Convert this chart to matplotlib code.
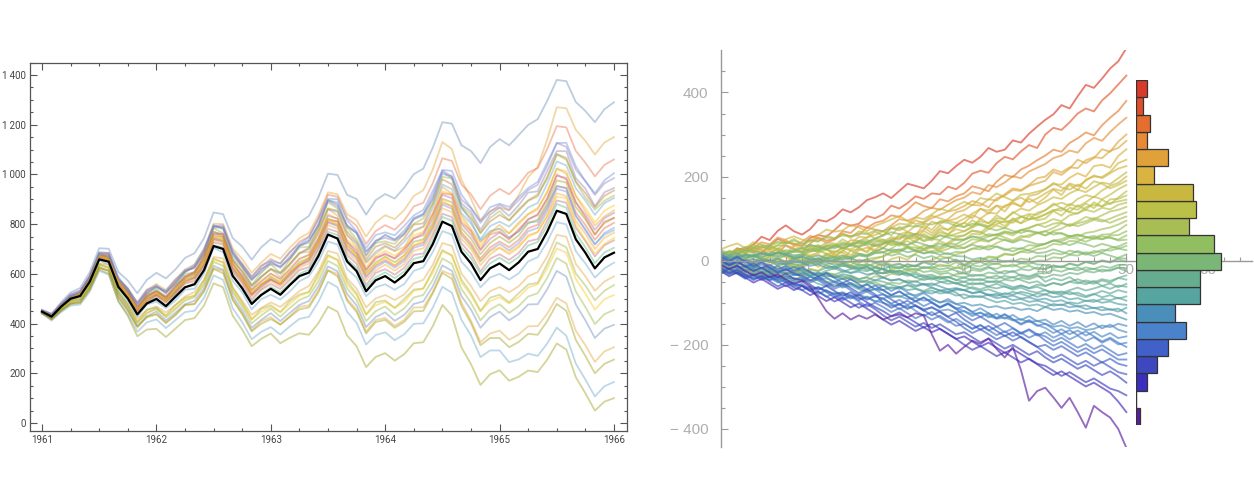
import numpy as np
import matplotlib
matplotlib.use("Agg")
from matplotlib import pyplot as plt
from matplotlib.colors import LinearSegmentedColormap
from matplotlib.ticker import MultipleLocator, FixedLocator

# ---- left panel: monthly mean path 1961-1966 and simulated paths (offset from mean)
mean_line = [448, 428, 468, 500, 511, 568, 658, 649, 548, 501, 437, 481,
             499, 470, 508, 546, 558, 615, 712, 700, 592, 542, 479, 515,
             540, 516, 555, 591, 605, 672, 758, 742, 650, 611, 530, 574,
             591, 565, 595, 643, 651, 720, 810, 792, 689, 642, 575, 622,
             642, 615, 646, 689, 700, 770, 854, 841, 739, 685, 622, 666,
             685]

path_offsets = [
    [5, 10, 18, 25, 32, 38, 45, 52, 60, 72, 85, 95, 105, 112, 110, 118, 125, 128, 135, 140, 152, 168, 178, 192, 200,
     208, 205, 215, 228, 236, 245, 256, 268, 290, 308, 322, 330, 338, 352, 358, 372, 388, 400, 412, 428, 452, 470, 488, 500,
     502, 512, 510, 522, 526, 526, 534, 552, 570, 588, 596, 605],
    [0, 5, 10, 8, 15, 20, 25, 28, 35, 40, 48, 55, 60, 65, 70, 72, 80, 85, 90, 100, 110, 118, 125, 130, 140,
     145, 150, 152, 160, 165, 170, 178, 190, 205, 220, 232, 245, 255, 262, 270, 285, 300, 320, 310, 290, 260, 240, 230, 225,
     240, 270, 300, 330, 370, 416, 425, 440, 450, 458, 462, 465],
    [-5, 0, 5, 10, 12, 18, 20, 25, 30, 32, 38, 45, 50, 55, 60, 62, 70, 75, 80, 88, 95, 100, 108, 115, 120,
     125, 130, 138, 145, 150, 160, 168, 175, 182, 190, 198, 205, 212, 220, 228, 235, 245, 255, 262, 270, 278, 285, 292, 300,
     305, 312, 318, 325, 332, 340, 348, 355, 362, 370, 372, 375],
    [8, 12, 10, 18, 22, 20, 28, 35, 30, 38, 45, 42, 50, 58, 55, 62, 70, 68, 75, 85, 90, 88, 95, 102, 110,
     108, 115, 122, 120, 130, 140, 138, 145, 155, 160, 158, 165, 172, 180, 178, 190, 198, 205, 200, 210, 222, 230, 228, 235,
     242, 250, 248, 258, 265, 272, 270, 280, 288, 295, 298, 300],
    [-8, -5, 0, 5, 2, 8, 12, 10, 15, 22, 20, 28, 32, 30, 38, 45, 42, 50, 58, 55, 62, 70, 75, 72, 80,
     88, 85, 92, 100, 108, 105, 112, 120, 118, 128, 135, 132, 140, 148, 155, 152, 160, 170, 168, 175, 182, 190, 188, 195,
     200, 208, 205, 212, 220, 228, 225, 232, 240, 245, 248, 250],
    [3, 0, 6, 10, 8, 14, 18, 15, 22, 25, 30, 28, 34, 40, 38, 45, 50, 48, 55, 60, 65, 62, 70, 75, 78,
     85, 82, 90, 95, 92, 100, 108, 105, 112, 118, 115, 122, 128, 135, 132, 140, 145, 150, 148, 155, 160, 165, 170, 168,
     175, 180, 178, 185, 192, 198, 195, 205, 210, 215, 218, 220],
    [-3, 2, 0, 5, 10, 6, 12, 15, 12, 18, 22, 20, 25, 28, 25, 32, 35, 40, 38, 45, 50, 48, 55, 58, 62,
     60, 68, 72, 70, 78, 82, 80, 88, 92, 98, 95, 102, 108, 105, 112, 118, 115, 122, 128, 132, 130, 138, 142, 140,
     148, 152, 150, 158, 162, 168, 172, 175, 180, 185, 188, 190],
    [5, 8, 4, 10, 12, 16, 14, 20, 18, 24, 28, 25, 30, 34, 30, 36, 40, 38, 44, 48, 45, 52, 56, 54, 60,
     64, 62, 68, 72, 70, 76, 80, 78, 84, 88, 85, 92, 96, 94, 100, 104, 102, 108, 112, 110, 116, 120, 118, 124,
     128, 126, 132, 136, 134, 140, 145, 148, 152, 155, 158, 160],
    [0, -4, 2, 6, 3, 8, 10, 8, 14, 12, 18, 20, 18, 24, 22, 28, 30, 28, 34, 38, 35, 40, 44, 42, 48,
     52, 50, 56, 60, 58, 64, 66, 64, 70, 74, 72, 78, 82, 80, 86, 88, 86, 92, 96, 94, 100, 104, 102, 108,
     110, 108, 114, 118, 116, 122, 126, 130, 134, 136, 138, 140],
    [-6, -2, -5, 0, 4, 2, 6, 10, 8, 12, 15, 12, 18, 20, 18, 22, 26, 24, 28, 32, 30, 34, 38, 36, 40,
     44, 42, 46, 50, 48, 52, 55, 53, 58, 62, 60, 64, 68, 66, 70, 74, 72, 76, 80, 78, 82, 86, 84, 88,
     92, 90, 94, 98, 96, 100, 104, 108, 112, 115, 118, 120],
    [4, 6, 2, 8, 10, 7, 12, 14, 10, 16, 18, 15, 20, 22, 19, 24, 26, 23, 28, 30, 27, 32, 35, 32, 38,
     40, 37, 42, 45, 42, 48, 50, 47, 52, 55, 52, 58, 60, 57, 62, 65, 62, 68, 70, 67, 72, 75, 72, 78,
     80, 77, 82, 85, 82, 88, 90, 93, 95, 97, 98, 100],
    [-2, 0, -4, 2, 4, 0, 6, 8, 4, 10, 12, 8, 14, 16, 12, 18, 20, 16, 22, 24, 20, 26, 28, 24, 30,
     32, 28, 34, 36, 32, 38, 40, 36, 42, 44, 40, 46, 48, 44, 50, 52, 48, 54, 56, 52, 58, 60, 56, 62,
     64, 60, 66, 68, 64, 70, 72, 74, 76, 78, 79, 80],
    [3, 1, 5, 2, 6, 4, 8, 5, 9, 7, 11, 8, 12, 14, 11, 15, 13, 17, 14, 18, 16, 20, 17, 21, 19,
     23, 20, 24, 22, 26, 23, 27, 25, 29, 26, 30, 28, 32, 29, 33, 31, 35, 32, 36, 34, 38, 35, 39, 37,
     41, 38, 42, 40, 44, 41, 45, 46, 47, 48, 49, 50],
    [-4, -1, -5, -2, 0, -3, 1, -2, 2, -1, 3, 0, 4, 2, 5, 1, 4, 0, 3, 6, 2, 5, 8, 4, 7,
     10, 6, 9, 12, 8, 11, 14, 10, 13, 16, 12, 15, 18, 14, 17, 20, 16, 19, 22, 18, 21, 24, 20, 23,
     26, 22, 25, 28, 24, 27, 25, 23, 22, 21, 20, 20],
    [2, -3, 6, 12, 4, 15, 22, 14, 25, 31, 22, 35, 40, 33, 48, 55, 46, 60, 72, 63, 70, 84, 76, 90, 98,
     88, 102, 115, 104, 118, 130, 121, 137, 128, 142, 150, 140, 155, 168, 158, 172, 165, 180, 192, 183, 196, 188, 202, 210,
     200, 214, 207, 220, 212, 226, 218, 230, 222, 236, 228, 230],
    [-4, 3, -2, 8, 14, 6, 18, 11, 24, 17, 29, 22, 30, 38, 29, 42, 50, 41, 55, 47, 61, 69, 58, 72, 80,
     71, 85, 94, 83, 97, 105, 92, 108, 99, 114, 106, 118, 126, 113, 128, 137, 124, 140, 131, 146, 138, 152, 143, 155,
     148, 160, 152, 165, 157, 170, 162, 175, 166, 172, 165, 170],
    [6, 0, 9, 15, 10, 20, 26, 18, 30, 36, 28, 40, 46, 55, 49, 62, 70, 64, 78, 86, 80, 94, 100, 92, 106,
     114, 108, 122, 130, 124, 138, 146, 140, 154, 160, 152, 166, 174, 168, 182, 190, 184, 200, 192, 180, 170, 158, 150, 140,
     132, 124, 118, 110, 104, 98, 104, 96, 90, 96, 92, 90],
    [-2, 4, 10, 5, 14, 20, 13, 25, 18, 30, 24, 35, 28, 36, 44, 38, 50, 58, 48, 60, 52, 45, 38, 44, 36,
     42, 50, 44, 56, 64, 58, 70, 78, 72, 84, 92, 86, 98, 106, 100, 112, 120, 114, 126, 118, 130, 124, 136, 128,
     122, 134, 128, 140, 132, 146, 138, 150, 142, 136, 144, 140],
    [4, 10, 6, 15, 21, 17, 28, 35, 30, 42, 38, 50, 56, 50, 62, 70, 64, 78, 85, 80, 92, 86, 98, 105, 100,
     112, 106, 120, 128, 122, 136, 130, 144, 152, 146, 160, 154, 168, 162, 176, 184, 178, 192, 200, 194, 208, 202, 216, 224,
     218, 230, 238, 232, 244, 240, 252, 246, 258, 250, 262, 260],
    [0, -6, 4, -2, 9, 3, 14, 8, 18, 12, 22, 16, 26, 20, 30, 24, 34, 28, 38, 32, 42, 36, 46, 40, 50,
     44, 54, 48, 58, 52, 62, 56, 66, 60, 70, 64, 74, 68, 78, 72, 82, 76, 86, 80, 74, 68, 76, 70, 64,
     72, 66, 60, 68, 62, 56, 64, 58, 52, 60, 54, 60],
    [-3, 5, 12, 8, 18, 26, 20, 32, 40, 35, 48, 55, 50, 62, 70, 64, 78, 86, 80, 95, 102, 96, 110, 118, 112,
     126, 134, 128, 142, 150, 144, 158, 166, 160, 174, 182, 176, 190, 198, 192, 206, 214, 208, 222, 230, 224, 238, 246, 240,
     254, 262, 256, 270, 278, 272, 286, 294, 288, 302, 310, 320],
    [2, -4, 3, -6, -2, -9, -5, -12, -7, -14, -10, -4, -11, -8, -15, -10, -18, -13, -7, -14, -20, -16, -22, -17, -24,
     -19, -26, -21, -15, -23, -28, -24, -31, -26, -20, -28, -33, -29, -36, -31, -25, -32, -38, -34, -40, -35, -29, -37, -42,
     -38, -44, -39, -33, -41, -46, -42, -48, -43, -37, -44, -40],
    [-3, 2, -6, -10, -5, -13, -17, -11, -20, -24, -18, -27, -30, -25, -33, -37, -31, -40, -44, -38, -46, -50, -44, -52, -55,
     -49, -57, -60, -54, -62, -66, -60, -68, -71, -65, -73, -76, -70, -78, -81, -75, -83, -86, -80, -88, -91, -85, -92, -95,
     -89, -96, -99, -93, -100, -97, -92, -99, -95, -90, -97, -95],
    [0, -5, -2, -9, -14, -10, -18, -22, -17, -26, -30, -25, -34, -38, -33, -42, -46, -40, -50, -54, -48, -58, -62, -56, -66,
     -70, -64, -74, -78, -72, -82, -86, -80, -90, -94, -88, -98, -102, -96, -106, -110, -104, -114, -118, -112, -120, -124, -118, -126,
     -130, -124, -132, -136, -130, -128, -134, -138, -132, -128, -134, -130],
    [-5, -8, -12, -10, -16, -20, -24, -22, -28, -32, -30, -36, -40, -38, -44, -48, -46, -52, -56, -54, -60, -64, -62, -68, -72,
     -70, -76, -80, -78, -84, -88, -86, -92, -96, -94, -100, -104, -102, -108, -112, -110, -116, -120, -118, -124, -128, -126, -132, -136,
     -134, -140, -144, -142, -148, -152, -156, -160, -164, -166, -168, -170],
    [2, -3, -8, -12, -10, -18, -22, -26, -24, -32, -36, -40, -38, -46, -50, -54, -52, -60, -64, -68, -66, -74, -78, -82, -80,
     -88, -92, -96, -94, -102, -106, -110, -108, -116, -120, -124, -122, -130, -134, -138, -136, -144, -148, -152, -150, -158, -162, -166, -164,
     -172, -176, -180, -178, -186, -190, -200, -210, -218, -224, -228, -230],
    [-4, -10, -14, -20, -18, -26, -32, -36, -34, -42, -48, -52, -50, -58, -64, -68, -66, -74, -80, -84, -82, -90, -96, -100, -98,
     -106, -112, -116, -114, -122, -128, -132, -130, -138, -144, -148, -146, -154, -160, -164, -162, -170, -176, -180, -178, -186, -192, -196, -194,
     -202, -208, -212, -222, -232, -242, -252, -262, -272, -280, -286, -290],
    [-6, -12, -18, -16, -24, -30, -36, -34, -42, -48, -54, -52, -60, -66, -72, -70, -78, -84, -90, -88, -96, -102, -108, -106, -114,
     -120, -126, -124, -132, -138, -144, -142, -150, -156, -162, -160, -168, -174, -180, -178, -186, -192, -198, -196, -204, -230, -250, -262, -270,
     -280, -290, -300, -310, -330, -350, -360, -368, -372, -376, -378, -380],
    [-2, -8, -14, -20, -26, -24, -32, -38, -44, -50, -48, -56, -62, -68, -74, -72, -80, -86, -92, -98, -96, -104, -110, -116, -122,
     -120, -128, -134, -140, -146, -144, -152, -158, -164, -170, -168, -176, -182, -188, -194, -200, -198, -206, -212, -218, -240, -262, -280, -300,
     -310, -320, -330, -345, -360, -375, -390, -405, -415, -422, -428, -430],
    [-8, -16, -22, -28, -34, -40, -46, -52, -58, -64, -70, -76, -82, -88, -94, -100, -106, -112, -118, -124, -130, -136, -142, -148, -154,
     -160, -166, -172, -178, -184, -190, -196, -202, -208, -214, -220, -226, -232, -238, -244, -250, -256, -262, -268, -274, -290, -310, -330, -350,
     -370, -390, -410, -430, -450, -470, -490, -500, -510, -515, -518, -520],
    [-5, -10, -16, -22, -28, -34, -40, -48, -58, -70, -88, -105, -120, -124, -128, -132, -136, -142, -150, -154, -160, -166, -170, -176, -180,
     -195, -212, -230, -250, -270, -290, -294, -298, -302, -305, -308, -310, -314, -318, -322, -326, -330, -335, -360, -385, -405, -422, -426, -430,
     -445, -460, -478, -495, -515, -534, -545, -555, -565, -572, -580, -585],
]

# ---- right panel: random walks (value at steps 0..50)
walks = [
    [5, 11, 29, 26, 38, 57, 49, 71, 84, 70, 62, 75, 97, 93, 104, 122, 115, 127, 144, 151, 160,
     149, 166, 183, 178, 172, 190, 213, 208, 225, 240, 233, 247, 268, 259, 264, 286, 281, 302, 319, 335,
     348, 370, 362, 391, 418, 411, 433, 457, 474, 505],
    [-8, 6, 13, 30, 24, 19, 35, 52, 44, 40, 35, 54, 61, 57, 73, 90, 83, 88, 106, 101, 110,
     131, 124, 137, 153, 147, 160, 158, 176, 170, 185, 207, 214, 209, 232, 247, 241, 260, 275, 268, 300,
     316, 311, 329, 350, 362, 355, 381, 398, 419, 440],
    [14, 8, 25, 19, 31, 26, 12, 18, 37, 29, 20, 41, 55, 48, 51, 70, 66, 84, 78, 90, 95,
     108, 104, 121, 139, 130, 125, 146, 141, 153, 160, 177, 172, 165, 188, 204, 199, 217, 226, 239, 250,
     264, 259, 280, 291, 305, 298, 322, 340, 356, 380],
    [-3, 10, 27, 21, 30, 44, 39, 55, 49, 36, 45, 59, 52, 43, 50, 64, 58, 61, 79, 74, 70,
     84, 99, 95, 103, 118, 126, 121, 133, 144, 150, 163, 158, 180, 175, 186, 201, 196, 212, 221, 230,
     244, 250, 262, 257, 279, 292, 285, 306, 324, 340],
    [22, 16, 30, 17, 9, 13, 28, 24, 8, 2, 10, 27, 21, 35, 38, 33, 49, 47, 55, 69, 60,
     77, 72, 81, 96, 90, 101, 109, 117, 121, 130, 142, 136, 127, 148, 155, 168, 166, 178, 184, 190,
     211, 204, 219, 240, 232, 244, 265, 259, 283, 300],
    [-18, -9, -15, -28, -14, -20, -2, 4, -1, -17, -10, 6, 1, 14, 22, 19, 8, 25, 31, 26, 40,
     52, 50, 68, 62, 74, 93, 87, 99, 115, 120, 133, 131, 146, 143, 158, 172, 168, 180, 196, 200,
     217, 210, 222, 220, 239, 246, 244, 261, 268, 285],
    [8, -2, 13, 21, 18, 34, 25, 14, 17, 35, 30, 24, 36, 29, 12, 22, 40, 43, 36, 20, 30,
     47, 41, 55, 53, 71, 60, 77, 74, 82, 90, 108, 100, 114, 112, 131, 136, 130, 154, 158, 170,
     182, 181, 197, 208, 200, 225, 228, 221, 249, 265],
    [-12, -26, -13, -27, -24, -38, -25, -14, -31, -22, -20, -2, -15, 6, 16, 3, 24, 28, 22, 44, 50,
     41, 63, 68, 61, 85, 73, 94, 95, 100, 110, 101, 124, 112, 131, 117, 140, 128, 148, 136, 150,
     169, 156, 181, 168, 193, 200, 199, 211, 232, 240],
    [27, 35, 41, 30, 44, 39, 28, 36, 51, 58, 50, 46, 61, 74, 69, 72, 85, 79, 70, 83, 90,
     98, 106, 95, 87, 92, 107, 101, 94, 90, 100, 112, 123, 119, 131, 127, 142, 150, 139, 148, 160,
     171, 166, 184, 177, 190, 203, 196, 208, 219, 225],
    [2, 12, 17, 5, -6, -1, 11, 4, -9, -4, 0, 13, 19, 26, 18, 31, 27, 37, 44, 35, 40,
     49, 58, 52, 61, 48, 55, 67, 63, 75, 70, 82, 94, 89, 101, 99, 113, 124, 119, 132, 140,
     151, 147, 160, 169, 163, 175, 186, 182, 196, 210],
    [-22, -12, -1, 3, 12, 7, 16, 28, 19, 26, 20, 11, 15, 4, -5, -2, -11, -19, -8, -14, -10,
     4, 9, 2, 18, 25, 31, 29, 43, 55, 60, 71, 66, 82, 87, 95, 90, 104, 111, 109, 120,
     132, 138, 131, 147, 156, 151, 167, 178, 185, 200],
    [10, 24, 19, 28, 39, 30, 36, 27, 43, 41, 35, 48, 45, 60, 53, 65, 54, 70, 66, 52, 60,
     79, 88, 86, 103, 99, 110, 124, 118, 130, 140, 132, 149, 145, 160, 151, 143, 157, 159, 164, 170,
     185, 174, 169, 181, 171, 189, 183, 172, 180, 190],
    [-5, -15, -12, -25, -18, -33, -21, -36, -30, -22, -30, -19, -24, -10, -18, -7, -11, 3, -4, 4, 10,
     22, 20, 33, 25, 36, 34, 47, 38, 52, 50, 64, 62, 75, 84, 77, 96, 89, 98, 101, 110,
     121, 119, 135, 128, 139, 152, 146, 157, 170, 180],
    [16, 6, 10, 27, 19, 5, 17, 30, 22, 7, 15, 33, 27, 38, 36, 51, 40, 57, 55, 61, 70,
     60, 81, 68, 83, 79, 66, 84, 72, 90, 80, 96, 85, 81, 94, 82, 101, 89, 108, 96, 100,
     118, 107, 126, 121, 136, 125, 145, 134, 150, 165],
    [-28, -14, -26, -10, -21, -1, -14, 6, -8, 9, -5, 11, 0, 18, 7, 25, 13, 31, 19, 38, 30,
     46, 35, 55, 44, 64, 53, 73, 62, 82, 90, 81, 100, 89, 108, 97, 116, 105, 98, 114, 120,
     136, 125, 116, 132, 121, 139, 129, 146, 147, 155],
    [6, 14, 27, 22, 35, 31, 38, 46, 41, 52, 40, 33, 37, 28, 21, 30, 24, 16, 12, 25, 20,
     29, 41, 37, 49, 56, 48, 61, 58, 64, 70, 79, 88, 82, 96, 91, 97, 105, 99, 103, 110,
     119, 126, 115, 112, 127, 133, 129, 137, 141, 145],
    [-10, -3, 9, 14, 3, 0, 11, 20, 12, 4, 10, 21, 30, 26, 35, 44, 39, 33, 45, 52, 50,
     42, 38, 47, 36, 29, 34, 22, 28, 37, 30, 41, 48, 45, 57, 66, 60, 72, 79, 85, 90,
     99, 94, 108, 113, 121, 116, 126, 122, 133, 138],
    [3, -6, -2, -14, -9, -20, -16, -27, -21, -13, -20, -29, -36, -28, -33, -41, -35, -44, -38, -26, -30,
     -21, -17, -8, -13, -2, 1, 11, 6, 15, 20, 28, 35, 31, 42, 50, 45, 54, 61, 65, 70,
     78, 89, 84, 93, 104, 99, 108, 117, 121, 128],
    [19, 12, 24, 18, 29, 21, 33, 27, 15, 21, 25, 36, 31, 43, 41, 30, 38, 44, 50, 39, 45,
     56, 53, 62, 57, 46, 52, 49, 61, 58, 60, 72, 69, 58, 63, 55, 48, 59, 56, 67, 60,
     71, 76, 87, 82, 89, 97, 93, 100, 108, 115],
    [-15, -7, -11, -2, -8, 4, -1, -12, -8, -17, -10, 0, 3, 12, 7, -4, -1, -6, 4, 7, 10,
     19, 22, 30, 24, 18, 23, 27, 35, 33, 40, 51, 49, 58, 62, 70, 66, 73, 77, 86, 80,
     88, 91, 82, 89, 94, 101, 97, 90, 98, 105],
    [12, 20, 17, 26, 24, 33, 29, 37, 35, 26, 30, 22, 25, 16, 9, 13, 6, -3, 1, -4, 0,
     -10, -7, -15, -12, -2, -6, -14, -11, -18, -10, -1, 2, 10, 8, 17, 14, 22, 26, 34, 40,
     48, 51, 59, 57, 66, 69, 75, 79, 86, 95],
    [-20, -11, -18, -16, -24, -19, -27, -23, -31, -28, -25, -33, -29, -38, -36, -44, -41, -49, -47, -37, -40,
     -31, -34, -24, -26, -15, -19, -9, -13, -4, -10, 0, -2, 8, 6, 15, 13, 21, 19, 27, 30,
     40, 38, 47, 46, 55, 54, 62, 63, 72, 85],
    [0, 8, 5, 12, 11, 2, 6, 4, 12, 10, 15, 24, 22, 31, 29, 38, 35, 43, 41, 48, 45,
     37, 40, 32, 23, 26, 18, 22, 15, 21, 20, 29, 27, 36, 33, 25, 30, 28, 37, 35, 40,
     48, 46, 55, 52, 45, 53, 51, 60, 61, 70],
    [25, 18, 24, 33, 30, 37, 35, 43, 41, 48, 40, 49, 47, 55, 53, 60, 58, 65, 63, 72, 70,
     78, 76, 83, 81, 88, 86, 92, 90, 83, 80, 88, 85, 77, 72, 78, 71, 66, 72, 67, 60,
     68, 64, 57, 62, 57, 52, 58, 54, 50, 60],
    [-2, -9, -5, -13, -10, -17, -12, -19, -15, -9, -15, -6, -8, 1, -1, 8, 6, 13, 11, 18, 20,
     27, 25, 33, 31, 28, 35, 33, 41, 39, 50, 57, 55, 63, 61, 68, 65, 73, 70, 66, 70,
     62, 66, 58, 62, 55, 59, 51, 56, 48, 50],
    [9, 2, 8, 4, 11, 6, -1, 3, -3, 6, 5, -3, 1, -8, -5, -13, -11, -19, -17, -25, -30,
     -23, -27, -19, -22, -15, -19, -27, -24, -16, -20, -11, -14, -5, -8, 0, -3, 5, 2, 11, 10,
     18, 15, 24, 20, 14, 23, 20, 30, 34, 42],
    [-27, -19, -26, -34, -29, -37, -32, -40, -36, -43, -40, -48, -44, -52, -49, -56, -53, -60, -57, -51, -60,
     -52, -55, -47, -50, -42, -45, -37, -40, -32, -30, -22, -25, -17, -19, -11, -14, -6, -8, 0, 0,
     8, 6, 14, 12, 20, 18, 26, 24, 29, 35],
    [15, 22, 18, 25, 21, 14, 21, 17, 25, 21, 20, 29, 26, 35, 32, 41, 38, 47, 44, 53, 60,
     68, 63, 57, 64, 59, 53, 60, 55, 49, 50, 58, 53, 47, 54, 49, 43, 50, 45, 39, 40,
     48, 43, 37, 44, 39, 33, 40, 35, 29, 25],
    [-6, 1, -5, 3, -3, 5, -1, -8, -2, -9, -10, -2, -6, 3, -1, 8, 4, 13, 9, 18, 20,
     12, 17, 9, 14, 6, 11, 3, 8, 0, 0, -8, -3, -11, -6, -14, -9, -17, -12, -20, -20,
     -11, -16, -7, -12, -3, -8, 1, -4, 7, 15],
    [4, 11, 6, 14, 9, 17, 12, 20, 15, 24, 30, 38, 33, 27, 35, 29, 37, 32, 40, 35, 40,
     48, 43, 37, 45, 39, 33, 41, 35, 29, 30, 38, 32, 26, 34, 28, 22, 30, 24, 18, 20,
     27, 21, 15, 23, 17, 11, 18, 12, 6, 5],
    [-24, -18, -25, -21, -29, -27, -33, -26, -31, -28, -30, -22, -25, -17, -20, -12, -16, -9, -13, -6, -10,
     -17, -14, -22, -19, -27, -24, -32, -29, -37, -40, -33, -36, -28, -31, -24, -27, -20, -23, -16, -20,
     -12, -15, -7, -11, -3, -7, 0, -4, 3, -2],
    [7, 13, 9, 16, 12, 19, 14, 8, 13, 6, 10, 2, 6, -2, 2, -6, -3, -11, -8, -16, -20,
     -28, -24, -32, -28, -36, -33, -41, -38, -46, -50, -43, -47, -40, -43, -36, -40, -33, -37, -30, -30,
     -22, -26, -19, -23, -16, -20, -13, -17, -10, -10],
    [-9, -3, -7, -1, -5, 1, -3, -10, -6, 1, -5, 3, -1, 7, 3, 12, 8, 17, 13, 22, 30,
     23, 27, 20, 24, 17, 21, 14, 18, 11, 10, 3, 7, 0, 4, -3, 1, -6, -2, -9, -10,
     -17, -13, -20, -16, -23, -19, -26, -22, -16, -18],
    [-30, -24, -31, -38, -33, -40, -35, -42, -37, -44, -40, -33, -37, -30, -33, -26, -29, -22, -25, -18, -20,
     -27, -24, -31, -39, -35, -43, -39, -47, -55, -60, -53, -56, -49, -52, -45, -48, -41, -44, -37, -40,
     -33, -36, -29, -32, -25, -28, -21, -24, -17, -25],
    [12, 5, 12, 7, 14, 9, 16, 11, 18, 13, 15, 8, 12, 5, 9, 2, 6, -1, 3, -4, -5,
     -12, -8, -15, -11, -18, -14, -21, -17, -24, -30, -37, -33, -40, -36, -43, -39, -46, -53, -49, -60,
     -53, -57, -50, -54, -47, -51, -44, -48, -41, -35],
    [-14, -8, -17, -11, -20, -26, -19, -28, -22, -15, -20, -27, -34, -29, -38, -44, -39, -47, -53, -46, -50,
     -57, -63, -58, -66, -72, -64, -71, -77, -69, -70, -63, -68, -61, -55, -62, -67, -59, -65, -57, -60,
     -53, -58, -50, -44, -51, -55, -47, -52, -41, -45],
    [20, 13, 17, 8, 12, 3, -2, 5, -4, 3, 0, -7, -3, -12, -16, -9, -18, -22, -14, -25, -20,
     -13, -19, -9, -14, -4, -10, 0, -6, 3, -10, -17, -21, -14, -26, -31, -24, -36, -40, -33, -50,
     -42, -47, -39, -51, -56, -48, -60, -54, -63, -55],
    [-17, -23, -29, -22, -31, -37, -30, -36, -42, -33, -35, -28, -32, -24, -18, -26, -20, -14, -22, -15, -20,
     -27, -33, -29, -40, -46, -41, -50, -55, -52, -60, -66, -72, -68, -75, -81, -74, -79, -85, -78, -80,
     -73, -77, -70, -64, -71, -66, -60, -67, -59, -62],
    [-4, -11, -18, -13, -24, -31, -27, -38, -44, -41, -50, -46, -55, -61, -56, -64, -59, -68, -74, -67, -70,
     -63, -67, -58, -62, -55, -59, -51, -48, -54, -50, -57, -53, -62, -66, -61, -69, -64, -72, -76, -70,
     -77, -81, -74, -82, -87, -80, -72, -78, -70, -75],
    [3, 9, 6, 14, 11, 18, 13, 20, 15, 7, 10, 3, 5, -3, -11, -6, -15, -19, -13, -26, -30,
     -24, -29, -36, -32, -40, -37, -44, -39, -46, -40, -47, -43, -51, -48, -56, -63, -59, -66, -62, -70,
     -77, -73, -80, -76, -84, -79, -87, -82, -90, -85],
    [-11, -4, -12, -18, -14, -22, -17, -25, -21, -28, -20, -27, -35, -31, -40, -36, -45, -52, -48, -57, -60,
     -66, -62, -70, -67, -74, -71, -78, -75, -83, -80, -87, -84, -92, -99, -95, -103, -100, -107, -104, -110,
     -103, -106, -99, -102, -95, -98, -91, -94, -88, -95],
    [-26, -33, -29, -37, -34, -41, -38, -46, -51, -47, -45, -38, -42, -35, -39, -32, -36, -44, -40, -47, -40,
     -47, -44, -52, -59, -56, -64, -71, -68, -76, -90, -83, -87, -80, -84, -77, -81, -74, -78, -86, -80,
     -87, -84, -92, -89, -96, -93, -100, -97, -103, -105],
    [-20, -28, -24, -33, -40, -36, -45, -41, -50, -57, -60, -67, -63, -72, -79, -75, -84, -80, -88, -85, -90,
     -83, -86, -79, -82, -75, -78, -71, -74, -67, -70, -77, -74, -82, -89, -86, -94, -91, -98, -95, -100,
     -107, -104, -111, -108, -115, -112, -118, -115, -121, -112],
    [8, 1, 6, -1, 4, -3, 2, -5, -9, -4, -5, -12, -9, -17, -14, -22, -29, -26, -33, -30, -40,
     -47, -44, -52, -49, -57, -54, -61, -68, -65, -70, -77, -74, -82, -79, -86, -83, -90, -87, -93, -90,
     -97, -94, -102, -109, -106, -113, -110, -117, -114, -125],
    [-12, -19, -15, -23, -20, -27, -24, -31, -28, -35, -30, -37, -45, -42, -50, -58, -55, -63, -71, -68, -80,
     -87, -84, -91, -88, -95, -92, -99, -96, -103, -100, -107, -104, -111, -108, -114, -111, -117, -114, -120, -110,
     -117, -114, -121, -118, -125, -122, -129, -126, -133, -140],
    [-22, -30, -27, -35, -42, -38, -46, -43, -51, -57, -60, -67, -64, -72, -79, -76, -84, -91, -88, -96, -100,
     -107, -104, -111, -108, -115, -112, -119, -116, -123, -120, -127, -124, -131, -138, -135, -142, -139, -146, -143, -150,
     -157, -154, -161, -158, -165, -162, -154, -158, -150, -155],
    [5, -6, 5, -7, -18, -9, -21, -12, -24, -15, -25, -37, -28, -40, -51, -42, -54, -65, -56, -68, -70,
     -82, -73, -85, -96, -87, -99, -110, -101, -113, -120, -132, -123, -135, -126, -138, -129, -141, -132, -144, -140,
     -152, -143, -155, -146, -158, -149, -161, -152, -164, -170],
    [-28, -17, -29, -40, -31, -43, -34, -46, -37, -49, -50, -38, -47, -59, -50, -62, -53, -65, -56, -68, -60,
     -72, -63, -75, -86, -77, -89, -100, -91, -103, -110, -122, -113, -125, -136, -127, -139, -150, -141, -153, -160,
     -172, -163, -175, -166, -178, -169, -181, -172, -184, -180],
    [-8, -20, -11, -24, -36, -27, -40, -52, -43, -56, -70, -61, -74, -86, -77, -90, -81, -94, -85, -98, -90,
     -103, -115, -106, -119, -131, -122, -135, -147, -138, -150, -162, -153, -166, -157, -170, -161, -174, -165, -178, -170,
     -183, -174, -187, -178, -191, -182, -195, -186, -199, -195],
    [16, 4, -8, 1, -11, -2, -14, -26, -17, -29, -40, -52, -43, -55, -67, -58, -70, -82, -73, -85, -90,
     -102, -93, -105, -96, -108, -99, -111, -102, -114, -110, -122, -134, -125, -137, -128, -140, -152, -143, -155, -150,
     -162, -174, -165, -177, -168, -180, -192, -183, -195, -205],
    [-16, -28, -19, -31, -43, -34, -46, -37, -49, -61, -55, -67, -79, -70, -82, -94, -85, -97, -109, -100, -110,
     -122, -113, -125, -137, -128, -140, -131, -143, -155, -150, -162, -153, -165, -177, -168, -180, -171, -183, -174, -180,
     -192, -183, -195, -207, -198, -210, -201, -213, -225, -220],
    [-1, -12, -3, -15, -6, -18, -9, -21, -12, -24, -15, -27, -38, -29, -41, -53, -44, -56, -68, -59, -70,
     -82, -73, -85, -97, -88, -100, -112, -103, -115, -130, -142, -133, -145, -157, -148, -160, -172, -163, -175, -190,
     -202, -193, -205, -217, -208, -220, -211, -223, -235, -235],
    [-30, -19, -31, -43, -34, -46, -37, -49, -61, -52, -60, -72, -63, -75, -87, -78, -90, -81, -93, -84, -80,
     -92, -104, -95, -107, -119, -110, -122, -134, -145, -160, -172, -163, -175, -187, -178, -190, -181, -193, -205, -200,
     -212, -203, -215, -227, -218, -230, -242, -233, -245, -250],
    [10, -1, 10, -2, -14, -5, -17, -29, -20, -32, -35, -47, -38, -50, -62, -53, -65, -77, -68, -80, -100,
     -112, -103, -115, -106, -118, -130, -121, -133, -124, -140, -152, -164, -155, -167, -179, -170, -182, -194, -205, -220,
     -232, -223, -235, -247, -238, -250, -241, -253, -265, -270],
    [-19, -31, -22, -34, -46, -37, -49, -61, -52, -64, -70, -82, -73, -85, -97, -88, -100, -112, -103, -115, -130,
     -142, -133, -145, -157, -148, -160, -151, -163, -175, -170, -182, -194, -185, -197, -209, -200, -212, -224, -215, -230,
     -242, -233, -245, -257, -248, -260, -272, -263, -275, -290],
    [2, -10, -1, -13, -25, -16, -28, -40, -31, -43, -45, -57, -69, -60, -72, -84, -75, -87, -99, -110, -120,
     -132, -123, -135, -147, -159, -150, -162, -174, -186, -200, -212, -203, -215, -227, -218, -230, -242, -233, -245, -250,
     -262, -274, -265, -277, -289, -280, -292, -304, -310, -320],
    [-25, -37, -28, -40, -52, -43, -55, -67, -58, -70, -60, -72, -84, -96, -87, -99, -111, -102, -114, -126, -140,
     -152, -143, -155, -167, -158, -170, -162, -174, -186, -180, -192, -204, -195, -207, -219, -210, -222, -234, -246, -260,
     -272, -263, -275, -287, -299, -290, -302, -314, -335, -360],
    [-10, -20, -12, -25, -35, -28, -40, -32, -45, -55, -48, -62, -90, -120, -138, -125, -140, -130, -138, -128, -140,
     -132, -128, -135, -125, -130, -175, -214, -200, -221, -205, -190, -198, -185, -210, -230, -205, -260, -333, -310, -302,
     -325, -350, -326, -360, -397, -345, -360, -373, -400, -445],
]

# histogram of final values, bins from lowest to highest
hist_counts = [1, 0, 3, 6, 9, 14, 11, 18, 18, 24, 22, 15, 17, 16, 5, 9, 3, 4, 2, 3]

# ---- styles
palette = ["#5E81B5", "#E19C24", "#EB6235", "#8778B3", "#C56E1A", "#5D9EC7", "#FFBF00", "#A5609D",
           "#929600", "#E95536", "#6685D9", "#F89F13", "#BC5B80", "#47B66D", "#8FB032", "#E19C24",
           "#5D9EC7", "#EB6235", "#8778B3", "#FFBF00", "#6685D9", "#5D9EC7", "#E19C24", "#8FB032",
           "#FFBF00", "#8FB032", "#5E81B5", "#E19C24", "#929600", "#5D9EC7", "#929600"]

rainbow = LinearSegmentedColormap.from_list("rainbow_m", [
    (0.00, "#5E1D9E"), (0.105, "#3A30C0"), (0.16, "#3C48C0"), (0.21, "#3F62C8"),
    (0.26, "#4A82CC"), (0.316, "#4A90B8"), (0.368, "#57A5A0"), (0.42, "#66AD90"),
    (0.47, "#78B578"), (0.526, "#90BE60"), (0.579, "#A8BE55"), (0.63, "#BAC048"),
    (0.684, "#C8B840"), (0.737, "#D9B440"), (0.79, "#E0A23A"), (0.84, "#E88A35"),
    (0.895, "#E37030"), (0.947, "#E0502A"), (1.0, "#D93A2A")])

W, H = 1254, 500
fig = plt.figure(figsize=(W / 100, H / 100), dpi=100)

# ================= left panel
ax1 = fig.add_axes([30 / W, (H - 431) / H, 597 / W, (431 - 62.5) / H])
mean_arr = np.array(mean_line, dtype=float)
t = 1961 + np.arange(len(mean_arr)) / 12.0
for i, off in enumerate(path_offsets):
    n = min(len(off), len(mean_arr))
    ax1.plot(t[:n], mean_arr[:n] + np.array(off[:n]), color=palette[i % len(palette)],
             lw=1.3, alpha=0.4)
ax1.plot(t, mean_arr, color="black", lw=1.6, zorder=5)

ax1.set_xlim(1960.895, 1966.114)
ax1.set_ylim(-32, 1450)
ax1.set_xticks(range(1961, 1967))
ax1.set_xticklabels([str(y) for y in range(1961, 1967)])
ax1.xaxis.set_minor_locator(MultipleLocator(0.25))
yt = list(range(0, 1401, 200))
ax1.set_yticks(yt)
ax1.set_yticklabels([("%d\u2009%03d" % (v // 1000, v % 1000)) if v >= 1000 else str(v) for v in yt])
ax1.yaxis.set_minor_locator(MultipleLocator(50))
ax1.tick_params(which="both", direction="in", top=True, right=True, colors="#555555",
                labelcolor="#444444", labelsize=7, width=0.8)
ax1.tick_params(which="major", length=5, pad=3)
ax1.tick_params(which="minor", length=2.5)
for lab in ax1.get_xticklabels() + ax1.get_yticklabels():
    lab.set_family("Roboto")
for s in ax1.spines.values():
    s.set_color("#555555")
    s.set_linewidth(0.9)

# ================= right panel
ax2 = fig.add_axes([721 / W, (H - 447) / H, (1252 - 721) / W, (447 - 50) / H])
ends = np.array([w[-1] for w in walks], dtype=float)
lo, hi = ends.min(), ends.max()
for w in walks:
    c = rainbow((w[-1] - lo) / (hi - lo))
    ax2.plot(np.arange(len(w)), w, color=c, lw=1.35, alpha=0.65)

ax2.set_xlim(0, 65.5)
ax2.set_ylim(-443, 501)
ax2.spines["top"].set_visible(False)
ax2.spines["right"].set_visible(False)
ax2.spines["bottom"].set_position(("data", 0))
for s in ("left", "bottom"):
    ax2.spines[s].set_color("#999999")
    ax2.spines[s].set_linewidth(1.0)
ax2.set_axisbelow(True)
ax2.set_xticks([10, 20, 30, 40, 50, 60])
ax2.xaxis.set_minor_locator(FixedLocator([v for v in range(2, 65, 2) if v % 10]))
ax2.set_yticks([-400, -200, 0, 200, 400])
ax2.set_yticklabels(["\u2212 400", "\u2212 200", "0", "200", "400"])
ax2.yaxis.set_minor_locator(FixedLocator([v for v in range(-400, 451, 50) if v % 200]))
ax2.tick_params(which="both", direction="in", colors="#999999", labelcolor="#a0a0a0",
                labelsize=11, width=0.8)
ax2.tick_params(which="major", length=5)
ax2.tick_params(which="minor", length=3)
ax2.tick_params(axis="y", pad=9)
ax2.tick_params(axis="x", pad=2)
for lab in ax2.get_xticklabels() + ax2.get_yticklabels():
    lab.set_family("Liberation Sans")
    lab.set_alpha(0.85)

# histogram inset
ax3 = fig.add_axes([1136 / W, (H - 425) / H, 110 / W, 345 / H])
nb = len(hist_counts)
bar_colors = [rainbow(i / (nb - 1)) for i in range(nb)]
ax3.axvline(0, color="#888888", lw=1.0, zorder=1)
ax3.barh(np.arange(nb), hist_counts, height=1.0, left=0, align="edge",
         color=bar_colors, edgecolor="#333333", linewidth=0.9, zorder=2)
ax3.set_ylim(0, nb)
ax3.set_xlim(0, 110 / 3.556)
ax3.axis("off")

fig.savefig("out.png", dpi=100)
